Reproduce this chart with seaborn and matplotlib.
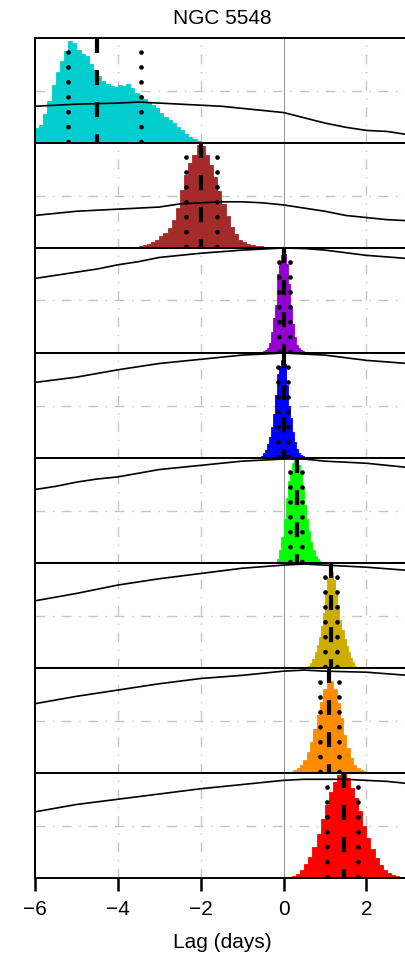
import numpy as np
import pandas as pd
import matplotlib
matplotlib.use("Agg")
import matplotlib.pyplot as plt
import seaborn as sns

# ---------------------------------------------------------------- data
title = "NGC 5548"
x_label = "Lag (days)"
x_ticks = [-6, -4, -2, 0, 2]
x_range = (-6.0, 3.03)

band_colors = ["#00CDCD", "#A52A2A", "#9400D3", "#0000FF",
               "#00FF00", "#CDAD00", "#FF8C00", "#FF0000"]

# lag posterior histograms: first bin edge, bin width, bin heights (peak-normalised)
hist_start = [-6.0, -4.5, -0.55, -0.6, -0.2, 0.6, 0.16, 0.1]
hist_width = [0.1, 0.1, 0.05, 0.05, 0.05, 0.05, 0.08, 0.1]

hist_1 = [0.14, 0.17, 0.28, 0.40, 0.55, 0.68, 0.78, 0.88, 0.97, 0.95,
          0.89, 0.85, 0.83, 0.75, 0.70, 0.64, 0.59, 0.56, 0.54, 0.53,
          0.55, 0.54, 0.56, 0.52, 0.48, 0.45, 0.42, 0.39, 0.36, 0.33,
          0.29, 0.25, 0.22, 0.19, 0.15, 0.12, 0.09, 0.06, 0.04, 0.02, 0.01]
hist_2 = [0.01, 0.005, 0.01, 0.005, 0.01, 0.005, 0.005, 0.01, 0.01, 0.01,
          0.02, 0.03, 0.04, 0.06, 0.08, 0.11, 0.14, 0.19, 0.27, 0.38,
          0.55, 0.70, 0.81, 0.89, 0.98, 0.97, 0.89, 0.79, 0.68, 0.54,
          0.42, 0.30, 0.20, 0.13, 0.08, 0.06, 0.04, 0.03, 0.02, 0.015,
          0.01, 0.01, 0.01, 0.01, 0.005, 0.005, 0.005]
hist_3 = [0.01, 0.02, 0.03, 0.05, 0.10, 0.20, 0.33, 0.46, 0.75, 0.88,
          0.93, 0.94, 0.85, 0.66, 0.45, 0.28, 0.15, 0.08, 0.05, 0.03,
          0.015, 0.01]
hist_4 = [0.01, 0.02, 0.05, 0.08, 0.13, 0.20, 0.30, 0.42, 0.60, 0.80,
          0.88, 0.93, 0.90, 0.70, 0.50, 0.38, 0.25, 0.15, 0.09, 0.05,
          0.03, 0.02, 0.01]
hist_5 = [0.01, 0.04, 0.12, 0.25, 0.42, 0.62, 0.78, 0.88, 0.95, 0.98,
          0.97, 0.93, 0.85, 0.72, 0.55, 0.42, 0.30, 0.20, 0.12, 0.07,
          0.04, 0.02]
hist_6 = [0.02, 0.05, 0.09, 0.15, 0.22, 0.30, 0.40, 0.52, 0.72, 0.86,
          0.92, 0.91, 0.84, 0.72, 0.60, 0.46, 0.36, 0.28, 0.21, 0.15,
          0.10, 0.06, 0.02]
hist_7 = [0.01, 0.03, 0.05, 0.08, 0.12, 0.20, 0.30, 0.42, 0.55, 0.68,
          0.80, 0.86, 0.88, 0.80, 0.67, 0.52, 0.36, 0.24, 0.14, 0.08,
          0.05, 0.03, 0.02]
hist_8 = [0.01, 0.02, 0.04, 0.08, 0.13, 0.20, 0.30, 0.42, 0.56, 0.70,
          0.82, 0.91, 0.98, 1.00, 0.95, 0.86, 0.76, 0.64, 0.50, 0.38,
          0.28, 0.19, 0.12, 0.08, 0.05, 0.03, 0.015, 0.01]
hist_heights = [hist_1, hist_2, hist_3, hist_4, hist_5, hist_6, hist_7, hist_8]

# lag summaries: median and lower / upper bounds (days)
lag_median = [-4.51, -1.99, 0.01, 0.00, 0.32, 1.15, 1.11, 1.45]
lag_lower = [-5.21, -2.36, -0.12, -0.13, 0.145, 1.01, 0.89, 1.05]
lag_upper = [-3.45, -1.61, 0.145, 0.12, 0.44, 1.30, 1.35, 1.80]

# cross-correlation functions on a common lag grid (scaled to panel height)
ccf_lags = [-6, -5.5, -5, -4.5, -4, -3.5, -3, -2.5, -2, -1.5,
            -1, -0.5, 0, 0.5, 1, 1.5, 2, 2.5, 3]
ccf_1 = [0.35, 0.36, 0.37, 0.375, 0.38, 0.39, 0.38, 0.37, 0.36, 0.35,
         0.33, 0.31, 0.29, 0.24, 0.19, 0.15, 0.12, 0.11, 0.08]
ccf_2 = [0.31, 0.33, 0.35, 0.36, 0.37, 0.38, 0.39, 0.42, 0.43, 0.44,
         0.44, 0.43, 0.41, 0.38, 0.35, 0.31, 0.29, 0.27, 0.26]
ccf_3 = [0.71, 0.74, 0.77, 0.80, 0.84, 0.87, 0.91, 0.93, 0.95, 0.965,
         0.98, 0.99, 1.00, 0.995, 0.98, 0.955, 0.93, 0.915, 0.90]
ccf_4 = [0.72, 0.745, 0.77, 0.805, 0.84, 0.87, 0.90, 0.92, 0.94, 0.96,
         0.98, 0.99, 1.00, 0.99, 0.98, 0.955, 0.93, 0.915, 0.90]
ccf_5 = [0.70, 0.73, 0.77, 0.80, 0.82, 0.855, 0.89, 0.91, 0.93, 0.95,
         0.97, 0.98, 0.99, 0.99, 0.97, 0.96, 0.95, 0.93, 0.91]
ccf_6 = [0.64, 0.675, 0.71, 0.75, 0.79, 0.82, 0.85, 0.875, 0.90, 0.925,
         0.95, 0.965, 0.98, 0.99, 0.98, 0.97, 0.96, 0.945, 0.93]
ccf_7 = [0.66, 0.695, 0.73, 0.76, 0.79, 0.82, 0.85, 0.875, 0.90, 0.915,
         0.93, 0.95, 0.97, 0.98, 0.97, 0.965, 0.96, 0.945, 0.93]
ccf_8 = [0.63, 0.665, 0.70, 0.725, 0.75, 0.775, 0.80, 0.825, 0.85, 0.87,
         0.89, 0.91, 0.93, 0.94, 0.94, 0.94, 0.93, 0.92, 0.90]
ccf_values = [ccf_1, ccf_2, ccf_3, ccf_4, ccf_5, ccf_6, ccf_7, ccf_8]

# ---------------------------------------------------------------- style
sns.set_theme(style="white")
plt.rcParams["font.family"] = ["Liberation Sans", "DejaVu Sans"]
plt.rcParams["axes.linewidth"] = 1.4
plt.rcParams["text.color"] = "black"
plt.rcParams["xtick.color"] = "black"
plt.rcParams["xtick.labelcolor"] = "black"

W, H, DPI = 406, 956, 100
fig = plt.figure(figsize=(W / DPI, H / DPI), dpi=DPI)
fig.patch.set_facecolor("white")

left_px, right_px = 35, 409
top_px, panel_px = 38, 105
n_panels = len(hist_heights)

grid_color = "#c4c4c4"
grid_style = (0, (7, 5.5, 1, 5.5))

for i in range(n_panels):
    bottom = (H - (top_px + panel_px * (i + 1))) / H
    ax = fig.add_axes([left_px / W, bottom, (right_px - left_px) / W, panel_px / H])
    ax.set_facecolor("white")

    # reference grid
    for xv in x_ticks[1:]:
        if xv == 0:
            ax.axvline(xv, color="#9c9c9c", lw=0.8, zorder=0)
        else:
            ax.axvline(xv, color=grid_color, lw=1.0, ls=grid_style, zorder=0)
    ax.axhline(0.5, color=grid_color, lw=1.0, ls=grid_style, zorder=0)

    # lag posterior histogram
    heights = list(hist_heights[i])
    edges = hist_start[i] + hist_width[i] * np.arange(len(heights) + 1)
    centers = edges[:-1] + hist_width[i] / 2
    frame = pd.DataFrame({"lag": centers, "weight": heights})
    sns.histplot(data=frame, x="lag", weights="weight", bins=list(edges),
                 element="bars", shrink=1, fill=True, color=band_colors[i],
                 edgecolor=band_colors[i], alpha=1, linewidth=0.6, ax=ax)

    # cross-correlation function
    sns.lineplot(x=ccf_lags, y=ccf_values[i], color="black", linewidth=1.2,
                 ax=ax, zorder=3)

    # median and bounds
    ax.plot([lag_median[i]] * 2, [1, 0], color="black", lw=3.0,
            ls=(0, (3.6, 4.1)), dash_capstyle="butt", zorder=4)
    for xb in (lag_lower[i], lag_upper[i]):
        ax.plot([xb] * 2, [1, 0], color="black", lw=3.4,
                ls=(0.19, (0.01, 3.15)), dash_capstyle="round", zorder=4)

    ax.set_xlim(*x_range)
    ax.set_ylim(0, 1)
    ax.set_yticks([])
    ax.set_xlabel("")
    ax.set_ylabel("")
    for side in ("top", "bottom", "left"):
        ax.spines[side].set_color("black")
        ax.spines[side].set_linewidth(1.4)
    ax.spines["right"].set_visible(False)

    ax.set_xticks(x_ticks)
    if i == n_panels - 1:
        ax.set_xticklabels([f"\u2212{abs(t)}" if t < 0 else str(t) for t in x_ticks])
        ax.tick_params(axis="x", direction="out", length=9.5, width=1.8,
                       color="black", labelcolor="black", labelsize=15,
                       pad=6.5, bottom=True)
    else:
        ax.tick_params(axis="x", length=0, labelbottom=False)

fig.text(222 / W, 1 - 19 / H, title, ha="center", va="center",
         fontsize=15, color="black")
fig.text(222 / W, 1 - 943 / H, x_label, ha="center", va="center",
         fontsize=15, color="black")

fig.savefig("out.png", dpi=DPI, facecolor="white")
